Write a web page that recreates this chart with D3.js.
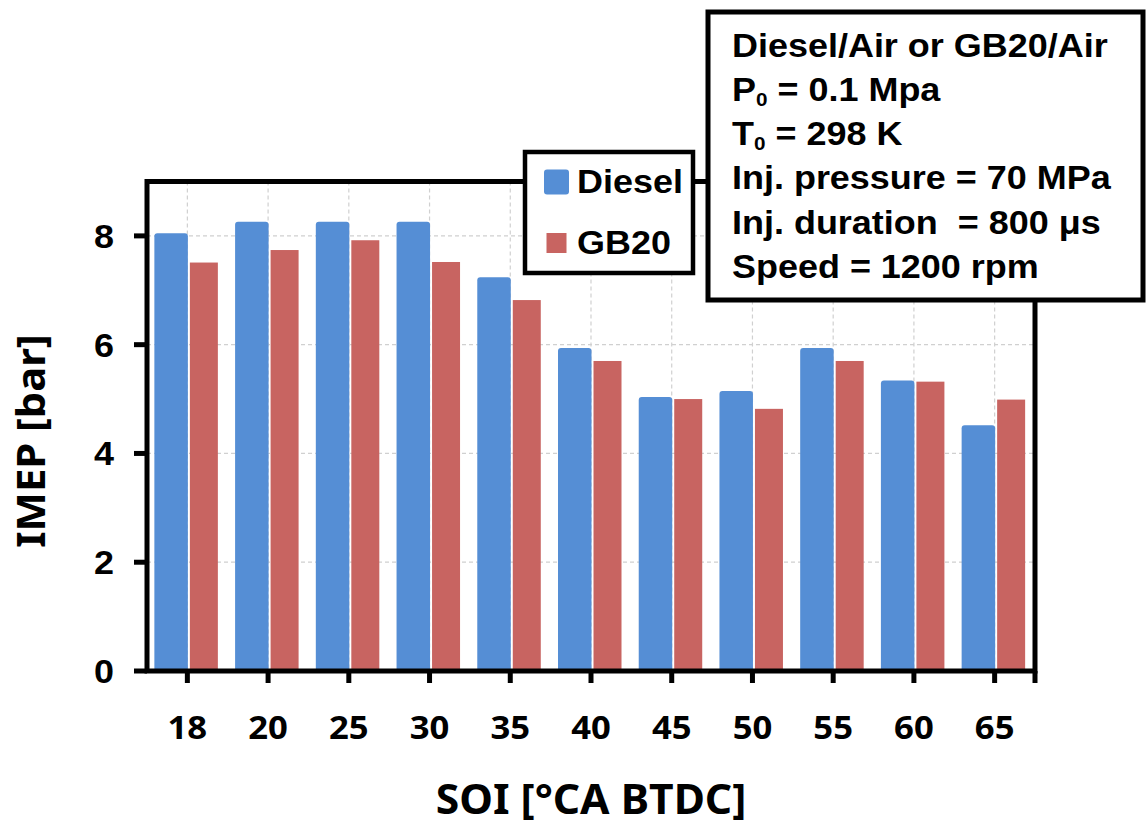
<!DOCTYPE html>
<html><head><meta charset="utf-8">
<script src="https://cdn.jsdelivr.net/npm/d3@7"></script>
<style>
html,body{margin:0;padding:0;background:#fff;}
svg{display:block;}
</style></head>
<body><svg id="chart" width="1146" height="828"></svg>
<script>
const categories = ["18","20","25","30","35","40","45","50","55","60","65"];
const diesel = [8.05, 8.26, 8.26, 8.26, 7.24, 5.94, 5.04, 5.15, 5.94, 5.34, 4.52];
const gb20   = [7.51, 7.74, 7.92, 7.52, 6.82, 5.70, 5.00, 4.82, 5.70, 5.32, 4.99];
const yTicks = [0, 2, 4, 6, 8];
const seriesNames = ["Diesel", "GB20"];
const seriesColors = ["#558ed5", "#c86461"];
const infoLines = [
  {t:"Diesel/Air or GB20/Air"},
  {t:"P", sub:"0", rest:" = 0.1 Mpa"},
  {t:"T", sub:"0", rest:" = 298 K"},
  {t:"Inj. pressure = 70 MPa"},
  {t:"Inj. duration  = 800 μs"},
  {t:"Speed = 1200 rpm"}
];

const svg = d3.select("#chart");
const L = 147, R = 1035, T = 181.5, B = 671;
const SX = 1.09;
const x = d3.scaleBand().domain(categories).range([L, R]).padding(0);
const y = d3.scaleLinear().domain([0, 9]).range([B, T]);

// grid
const grid = svg.append("g").attr("stroke", "#d0d0d0").attr("stroke-width", 1.2).attr("stroke-dasharray", "4,3");
yTicks.filter(d => d > 0).forEach(d => {
  grid.append("line").attr("x1", L).attr("x2", R).attr("y1", y(d)).attr("y2", y(d));
});
categories.forEach(c => {
  const cx = x(c) + x.bandwidth() / 2;
  grid.append("line").attr("x1", cx).attr("x2", cx).attr("y1", T).attr("y2", B);
});

// bars
const bars = svg.append("g");
categories.forEach((c, i) => {
  const cx = x(c) + x.bandwidth() / 2;
  bars.append("path")
    .attr("d", roundTop(cx - 33, y(diesel[i]), 33.5, B - y(diesel[i]), 3))
    .attr("fill", seriesColors[0]);
  bars.append("rect")
    .attr("x", cx + 2.5).attr("y", y(gb20[i]))
    .attr("width", 28).attr("height", B - y(gb20[i]))
    .attr("fill", seriesColors[1]);
});
function roundTop(x0, y0, w, h, r) {
  return `M${x0},${y0 + h}V${y0 + r}Q${x0},${y0} ${x0 + r},${y0}H${x0 + w - r}Q${x0 + w},${y0} ${x0 + w},${y0 + r}V${y0 + h}Z`;
}

// axes frame
const ax = svg.append("g").attr("stroke", "#000").attr("stroke-width", 5).attr("fill", "none");
ax.append("rect").attr("x", L).attr("y", T).attr("width", R - L).attr("height", B - T);
yTicks.forEach(d => {
  ax.append("line").attr("x1", L - 13).attr("x2", L).attr("y1", y(d)).attr("y2", y(d));
});
categories.forEach(c => {
  const cx = x(c) + x.bandwidth() / 2;
  ax.append("line").attr("x1", cx).attr("x2", cx).attr("y1", B).attr("y2", B + 12);
});
ax.append("line").attr("x1", R).attr("x2", R).attr("y1", B).attr("y2", B + 12);

// y tick labels
svg.append("g").selectAll("text").data(yTicks).join("text")
  .attr("transform", d => `translate(114,${y(d) + 12}) scale(${SX},1)`)
  .attr("text-anchor", "end")
  .style("font-family", "'Liberation Sans', Arial, sans-serif")
  .style("font-weight", "bold").style("font-size", "33px")
  .text(d => d);

// x tick labels
svg.append("g").selectAll("text").data(categories).join("text")
  .attr("transform", d => `translate(${x(d) + x.bandwidth() / 2},739) scale(1.05,1)`)
  .attr("text-anchor", "middle")
  .style("font-family", "'Noto Sans', sans-serif")
  .style("font-weight", "bold").style("font-size", "33px")
  .text(d => d);

// axis titles
svg.append("text")
  .attr("transform", "translate(591,814) scale(1.04,1)").attr("text-anchor", "middle")
  .style("font-family", "'Noto Sans', sans-serif")
  .style("font-weight", "bold").style("font-size", "41px")
  .text("SOI [°CA BTDC]");
svg.append("text")
  .attr("transform", "translate(45,441) rotate(-90) scale(1.07,1)").attr("text-anchor", "middle")
  .style("font-family", "'Noto Sans', sans-serif")
  .style("font-weight", "bold").style("font-size", "39px")
  .text("IMEP [bar]");

// legend
const lg = svg.append("g");
lg.append("rect").attr("x", 525).attr("y", 152).attr("width", 168).attr("height", 121)
  .attr("fill", "#fff").attr("stroke", "#000").attr("stroke-width", 4.5);
const legY = [182, 243];
seriesNames.forEach((n, i) => {
  const s = i === 0 ? 25 : 20;
  lg.append("rect").attr("x", 556.5 - s / 2).attr("y", legY[i] - s / 2).attr("width", s).attr("height", s)
    .attr("rx", i === 0 ? 3 : 0)
    .attr("fill", seriesColors[i]);
  lg.append("text").attr("transform", `translate(577,${legY[i] + 11}) scale(${SX},1)`)
    .style("font-family", "'Liberation Sans', Arial, sans-serif")
    .style("font-weight", "bold").style("font-size", "33px")
    .text(n);
});

// info box
const ib = svg.append("g");
ib.append("rect").attr("x", 708).attr("y", 12).attr("width", 435).attr("height", 288)
  .attr("fill", "#fff").attr("stroke", "#000").attr("stroke-width", 5);
infoLines.forEach((ln, i) => {
  const t = ib.append("text")
    .attr("transform", `translate(732,${56.5 + i * 44.3}) scale(${SX},1)`)
    .style("font-family", "'Liberation Sans', Arial, sans-serif")
    .style("font-weight", "bold").style("font-size", "33px")
    .attr("xml:space", "preserve").style("white-space", "pre");
  t.append("tspan").text(ln.t);
  if (ln.sub) {
    t.append("tspan").attr("dy", 5).style("font-size", "19px").text(ln.sub);
    t.append("tspan").attr("dy", -5).text(ln.rest);
  }
});
</script>
</body></html>
